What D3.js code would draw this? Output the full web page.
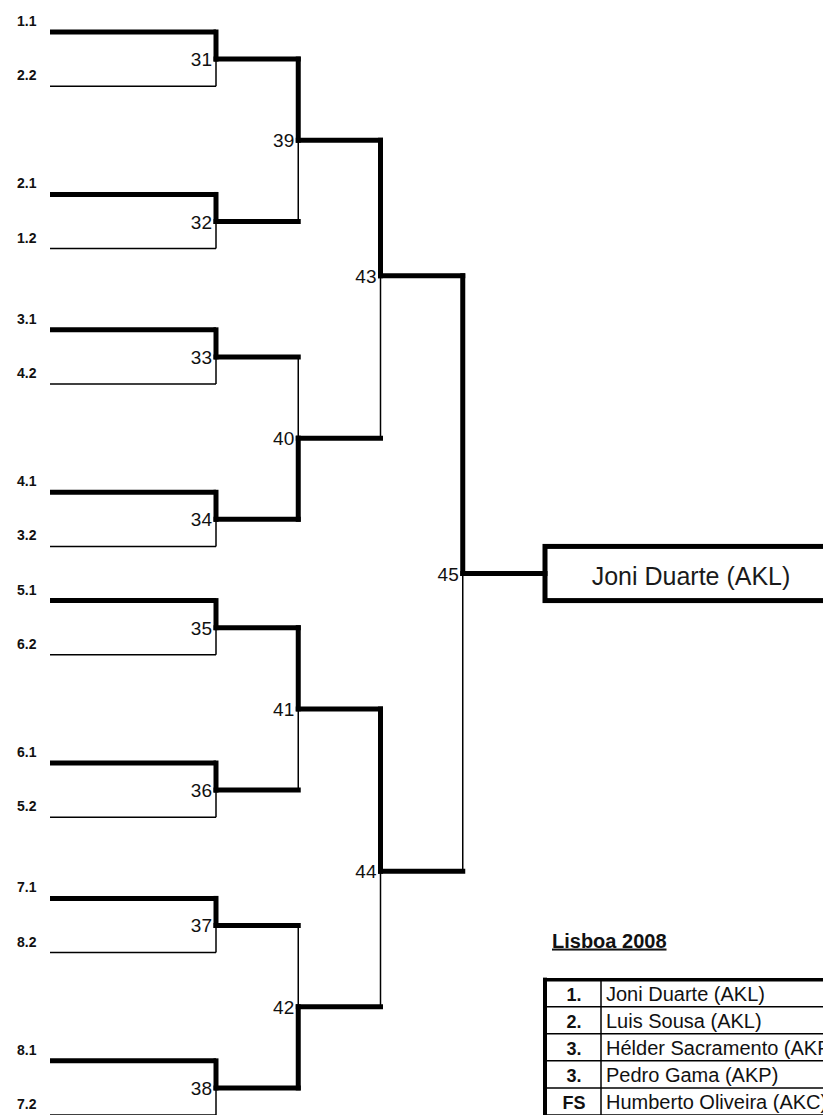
<!DOCTYPE html>
<html>
<head>
<meta charset="utf-8">
<script src="https://cdn.jsdelivr.net/npm/d3@7"></script>
<style>
  body { margin: 0; background: #fff; }
  svg { display: block; font-family: Arial, "Liberation Sans", sans-serif; }
</style>
</head>
<body>
<div id="chart"></div>
<script>
// first round entries (seed labels) and the sheet row each one sits on
const leafLabels = ["1.1","2.2","2.1","1.2","3.1","4.2","4.1","3.2","5.1","6.2","6.1","5.2","7.1","8.2","8.1","7.2"];
const leafRows = [0,2,6,8,11,13,17,19,21,23,27,29,32,34,38,40];

// matches: number, round, sheet row of the junction, which side won
const matchIds = [31,32,33,34,35,36,37,38,39,40,41,42,43,44,45];
const matchRounds = [1,1,1,1,1,1,1,1,2,2,2,2,3,3,4];
const matchRows = [1,7,12,18,22,28,33,39,4,15,25,36,9,31,20];
const matchWinner = ["top","top","top","top","top","top","top","top","top","bottom","top","bottom","top","top","top"];

const champion = "Joni Duarte (AKL)";
const championRows = [19, 21];

const title = "Lisboa 2008";
const placeLabels = ["1.","2.","3.","3.","FS"];
const placeNames = ["Joni Duarte (AKL)","Luis Sousa (AKL)","Hélder Sacramento (AKP)","Pedro Gama (AKP)","Humberto Oliveira (AKC)"];
const tableTopRow = 35;

const width = 823, height = 1115;
const thick = 5, thin = 1.5;

const svg = d3.select("#chart").append("svg")
    .attr("width", width)
    .attr("height", height);

// spreadsheet rows -> pixels, rounds -> columns
const y = d3.scaleLinear().domain([0, 40]).range([32, 1115]);
const x = d3.scaleLinear().domain([1, 5]).range([216, 545]);
const leafStart = 50;

// build the match tree
const matches = matchIds.map((id, i) => ({
    id, round: matchRounds[i], row: matchRows[i], winner: matchWinner[i]
}));
matches.forEach(m => {
    const sameRound = matches.filter(d => d.round === m.round);
    const k = sameRound.indexOf(m);
    if (m.round === 1) {
        m.top = { row: leafRows[2 * k], label: leafLabels[2 * k] };
        m.bottom = { row: leafRows[2 * k + 1], label: leafLabels[2 * k + 1] };
    } else {
        const prev = matches.filter(d => d.round === m.round - 1);
        m.top = prev[2 * k];
        m.bottom = prev[2 * k + 1];
    }
});

const thinG = svg.append("g");
const thickG = svg.append("g");
const textG = svg.append("g");

function seg(g, x1, y1, x2, y2, w, cap) {
    g.append("line")
        .attr("x1", x1).attr("y1", y1)
        .attr("x2", x2).attr("y2", y2)
        .attr("stroke", "#000")
        .attr("stroke-width", w)
        .attr("stroke-linecap", cap || "butt");
}

matches.forEach(m => {
    const xm = x(m.round);
    const yj = y(m.row);
    const yt = y(m.top.row), yb = y(m.bottom.row);

    // first round: the entry lines
    if (m.round === 1) {
        [["top", m.top], ["bottom", m.bottom]].forEach(([side, leaf]) => {
            const won = m.winner === side;
            seg(won ? thickG : thinG, leafStart, y(leaf.row), xm, y(leaf.row), won ? thick : thin);
            textG.append("text")
                .attr("x", 17)
                .attr("y", y(leaf.row) - 6)
                .attr("font-size", 14)
                .attr("font-weight", "bold")
                .attr("fill", "#111")
                .text(leaf.label);
        });
    }

    // vertical halves
    if (m.winner === "top") {
        seg(thickG, xm, yt, xm, yj, thick, "square");
        seg(thinG, xm, yj, xm, yb, thin);
    } else {
        seg(thinG, xm, yt, xm, yj, thin);
        seg(thickG, xm, yj, xm, yb, thick, "square");
    }

    // winner advances
    seg(thickG, xm, yj, x(m.round + 1), yj, thick, "square");

    textG.append("text")
        .attr("x", xm - 4)
        .attr("y", yj + 7)
        .attr("text-anchor", "end")
        .attr("font-size", 19)
        .attr("fill", "#111")
        .text(m.id);
});

// champion box
const boxX = x(5);
thickG.append("rect")
    .attr("x", boxX)
    .attr("y", y(championRows[0]))
    .attr("width", 300)
    .attr("height", y(championRows[1]) - y(championRows[0]))
    .attr("fill", "none")
    .attr("stroke", "#000")
    .attr("stroke-width", thick);

textG.append("text")
    .attr("x", 691)
    .attr("y", y(20) + 11)
    .attr("text-anchor", "middle")
    .attr("font-size", 25)
    .attr("fill", "#1a1a1a")
    .text(champion);

// results table
textG.append("text")
    .attr("x", 552)
    .attr("y", y(tableTopRow - 1) - 5)
    .attr("font-size", 20)
    .attr("font-weight", "bold")
    .attr("text-decoration", "underline")
    .attr("fill", "#111")
    .text(title);

const tX = x(5), tDiv = 601, tRight = 900;
const tRows = d3.range(tableTopRow, tableTopRow + placeLabels.length + 1);

tRows.slice(1).forEach(r => seg(thinG, tX, y(r), tRight, y(r), thin));
seg(thinG, tDiv, y(tableTopRow), tDiv, y(tableTopRow + placeLabels.length), thin);
seg(thickG, tX, y(tableTopRow), tRight, y(tableTopRow), 3.5, "square");
seg(thickG, tX, y(tableTopRow), tX, height + 5, 4, "square");

placeLabels.forEach((p, i) => {
    const yb = y(tableTopRow + i + 1);
    textG.append("text")
        .attr("x", (tX + tDiv) / 2 + 1)
        .attr("y", yb - 6)
        .attr("text-anchor", "middle")
        .attr("font-size", 18)
        .attr("font-weight", "bold")
        .attr("fill", "#111")
        .text(p);
    textG.append("text")
        .attr("x", tDiv + 5)
        .attr("y", yb - 6)
        .attr("font-size", 20)
        .attr("fill", "#111")
        .text(placeNames[i]);
});
</script>
</body>
</html>
